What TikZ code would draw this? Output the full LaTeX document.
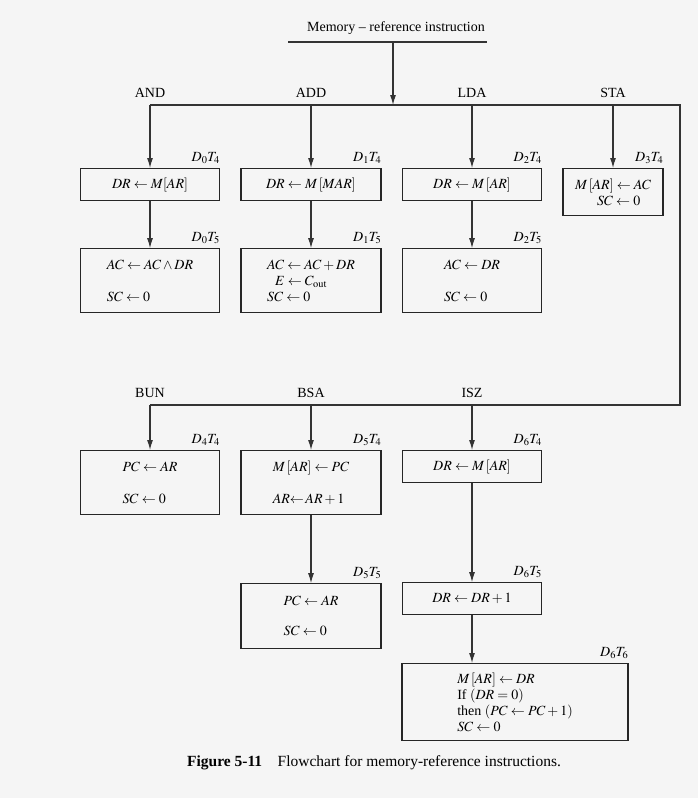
\documentclass[tikz,border=0pt]{standalone}
\usepackage{mathptmx}
\usepackage{fontspec}
\setmainfont{Liberation Serif}
\usetikzlibrary{arrows.meta,positioning,calc}

\begin{document}
\begin{tikzpicture}[
        x=1pt, y=-1pt,
        font=\fontsize{14}{16}\selectfont,
        stepbox/.style={rectangle, draw=black!85, align=left, inner sep=0pt, line width=1.1pt, anchor=north, minimum width=139, minimum height=32},
        arrow/.style={draw=black!80, -{Latex[length=10pt,width=6pt]}, line width=1.1pt},
        line/.style={draw=black!80, line width=1.1pt},
        tlabel/.style={inner sep=0pt},
        oplabel/.style={inner sep=0pt}
    ]
    \fill[black!4] (0,0) rectangle (698,798);
    \useasboundingbox (0,0) rectangle (698,798);

    % Title and entry arrow
    \node (title) at (396,28) {Memory -- reference instruction};
    \coordinate (ulL) at (288,42);
    \coordinate (ulR) at (487,42);
    \coordinate (top) at (393,42);
    \coordinate (busTop) at (393,105);
    \draw[line] (ulL) -- (ulR);
    \draw[arrow] (top) -- (busTop);

    % Bus coordinates
    \coordinate (busAND) at (150,105);
    \coordinate (busADD) at (311,105);
    \coordinate (busLDA) at (472,105);
    \coordinate (busSTA) at (613,105);
    \coordinate (busR) at (680,105);
    \coordinate (busR2) at (680,405);
    \coordinate (busBUN) at (150,405);
    \coordinate (busBSA) at (311,405);
    \coordinate (busISZ) at (472,405);
    \draw[line] (busAND) -- (busR) -- (busR2) -- (busBUN);

    % Opcode labels
    \node[oplabel, above=7pt of busAND] (lAND) {AND};
    \node[oplabel, above=7pt of busADD] (lADD) {ADD};
    \node[oplabel, above=7pt of busLDA] (lLDA) {LDA};
    \node[oplabel, above=7pt of busSTA] (lSTA) {STA};
    \node[oplabel, above=7pt of busBUN] (lBUN) {BUN};
    \node[oplabel, above=7pt of busBSA] (lBSA) {BSA};
    \node[oplabel, above=7pt of busISZ] (lISZ) {ISZ};

    % First row (T4)
    \node[stepbox] (and1) at (150,168) {$DR \leftarrow M[AR]$};
    \node[stepbox, minimum width=140] (add1) at (311,168) {$DR \leftarrow M\,[MAR]$};
    \node[stepbox] (lda1) at (472,168) {$DR \leftarrow M\,[AR]$};
    \node[stepbox, minimum width=100, minimum height=47] (sta1) at (613,168) {$M\,[AR] \leftarrow AC$\\\hspace{22pt}$SC \leftarrow 0$};

    % Second row (T5)
    \node[stepbox, minimum height=64, below=47pt of and1] (and2) {$AC \leftarrow AC \wedge DR$\\[16pt]$SC \leftarrow 0$};
    \node[stepbox, minimum width=140, minimum height=64, below=47pt of add1] (add2) {$AC \leftarrow AC + DR$\\\hspace{8pt}$E \leftarrow C_{\mathrm{out}}$\\$SC \leftarrow 0$};
    \node[stepbox, minimum height=64, below=47pt of lda1] (lda2) {$AC \leftarrow DR$\\[16pt]$SC \leftarrow 0$};

    % Third row (T4)
    \node[stepbox, minimum height=64] (bun1) at (150,450) {$PC \leftarrow AR$\\[16pt]$SC \leftarrow 0$};
    \node[stepbox, minimum width=140, minimum height=64] (bsa1) at (311,450) {$M\,[AR] \leftarrow PC$\\[16pt]$AR{\leftarrow}\,AR + 1$};
    \node[stepbox] (isz1) at (472,450) {$DR \leftarrow M\,[AR]$};

    % Fourth row (T5, T6)
    \node[stepbox, minimum width=140, minimum height=65, below=68pt of bsa1] (bsa2) {$PC \leftarrow AR$\\[14pt]$SC \leftarrow 0$};
    \node[stepbox, below=99pt of isz1] (isz2) {$DR \leftarrow DR + 1$};
    \node[stepbox, minimum width=226, minimum height=77] (fin) at (515,663) {$M\,[AR] \leftarrow DR$\\If $(DR = 0)$\\then $(PC \leftarrow PC + 1)$\\$SC \leftarrow 0$};

    % Timing labels
    \node[tlabel, above left=4pt and 0pt of and1.north east] (tAND1) {$D_0T_4$};
    \node[tlabel, above left=4pt and 0pt of add1.north east] (tADD1) {$D_1T_4$};
    \node[tlabel, above left=4pt and 0pt of lda1.north east] (tLDA1) {$D_2T_4$};
    \node[tlabel, above left=4pt and 0pt of sta1.north east] (tSTA1) {$D_3T_4$};
    \node[tlabel, above left=4pt and 0pt of and2.north east] (tAND2) {$D_0T_5$};
    \node[tlabel, above left=4pt and 0pt of add2.north east] (tADD2) {$D_1T_5$};
    \node[tlabel, above left=4pt and 0pt of lda2.north east] (tLDA2) {$D_2T_5$};
    \node[tlabel, above left=4pt and 0pt of bun1.north east] (tBUN1) {$D_4T_4$};
    \node[tlabel, above left=4pt and 0pt of bsa1.north east] (tBSA1) {$D_5T_4$};
    \node[tlabel, above left=4pt and 0pt of isz1.north east] (tISZ1) {$D_6T_4$};
    \node[tlabel, above left=4pt and 0pt of bsa2.north east] (tBSA2) {$D_5T_5$};
    \node[tlabel, above left=4pt and 0pt of isz2.north east] (tISZ2) {$D_6T_5$};
    \node[tlabel, above left=4pt and 0pt of fin.north east] (tFIN) {$D_6T_6$};

    % Flow arrows
    \draw[arrow] (busAND) -- (and1);
    \draw[arrow] (busADD) -- (add1);
    \draw[arrow] (busLDA) -- (lda1);
    \draw[arrow] (busSTA) -- (sta1);
    \draw[arrow] (and1) -- (and2);
    \draw[arrow] (add1) -- (add2);
    \draw[arrow] (lda1) -- (lda2);
    \draw[arrow] (busBUN) -- (bun1);
    \draw[arrow] (busBSA) -- (bsa1);
    \draw[arrow] (busISZ) -- (isz1);
    \draw[arrow] (bsa1) -- (bsa2);
    \draw[arrow] (isz1) -- (isz2);
    \draw[arrow] (isz2.south) -- (isz2.south |- fin.north);

    % Caption
    \node[font=\fontsize{15.5}{18}\selectfont] (caption) at (374,763) {\textbf{Figure 5-11}\quad Flowchart for memory-reference instructions.};
\end{tikzpicture}
\end{document}
